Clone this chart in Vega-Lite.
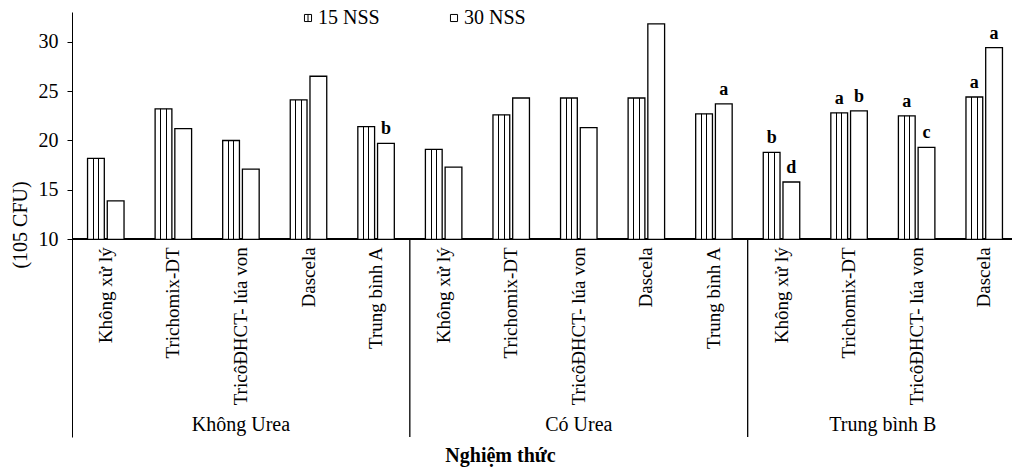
{
  "$schema": "https://vega.github.io/schema/vega-lite/v6.json",
  "autosize": "none",
  "width": 940,
  "height": 425,
  "padding": {"left": 72, "top": 12, "right": 0, "bottom": 30},
  "config": {
    "font": "Liberation Serif",
    "view": {"stroke": null},
    "text": {"color": "black"}
  },
  "data": {"values": [
    {"k": "01", "g": "Không Urea", "t": "Không xử lý", "s": "15 NSS", "v": 18.2, "sig": ""},
    {"k": "01", "g": "Không Urea", "t": "Không xử lý", "s": "30 NSS", "v": 13.9, "sig": ""},
    {"k": "02", "g": "Không Urea", "t": "Trichomix-DT", "s": "15 NSS", "v": 23.2, "sig": ""},
    {"k": "02", "g": "Không Urea", "t": "Trichomix-DT", "s": "30 NSS", "v": 21.2, "sig": ""},
    {"k": "03", "g": "Không Urea", "t": "TricôĐHCT- lúa von", "s": "15 NSS", "v": 20.0, "sig": ""},
    {"k": "03", "g": "Không Urea", "t": "TricôĐHCT- lúa von", "s": "30 NSS", "v": 17.1, "sig": ""},
    {"k": "04", "g": "Không Urea", "t": "Dascela", "s": "15 NSS", "v": 24.1, "sig": ""},
    {"k": "04", "g": "Không Urea", "t": "Dascela", "s": "30 NSS", "v": 26.5, "sig": ""},
    {"k": "05", "g": "Không Urea", "t": "Trung bình A", "s": "15 NSS", "v": 21.4, "sig": ""},
    {"k": "05", "g": "Không Urea", "t": "Trung bình A", "s": "30 NSS", "v": 19.7, "sig": "b"},
    {"k": "06", "g": "Có Urea", "t": "Không xử lý", "s": "15 NSS", "v": 19.1, "sig": ""},
    {"k": "06", "g": "Có Urea", "t": "Không xử lý", "s": "30 NSS", "v": 17.3, "sig": ""},
    {"k": "07", "g": "Có Urea", "t": "Trichomix-DT", "s": "15 NSS", "v": 22.6, "sig": ""},
    {"k": "07", "g": "Có Urea", "t": "Trichomix-DT", "s": "30 NSS", "v": 24.3, "sig": ""},
    {"k": "08", "g": "Có Urea", "t": "TricôĐHCT- lúa von", "s": "15 NSS", "v": 24.3, "sig": ""},
    {"k": "08", "g": "Có Urea", "t": "TricôĐHCT- lúa von", "s": "30 NSS", "v": 21.3, "sig": ""},
    {"k": "09", "g": "Có Urea", "t": "Dascela", "s": "15 NSS", "v": 24.3, "sig": ""},
    {"k": "09", "g": "Có Urea", "t": "Dascela", "s": "30 NSS", "v": 31.8, "sig": ""},
    {"k": "10", "g": "Có Urea", "t": "Trung bình A", "s": "15 NSS", "v": 22.7, "sig": ""},
    {"k": "10", "g": "Có Urea", "t": "Trung bình A", "s": "30 NSS", "v": 23.7, "sig": "a"},
    {"k": "11", "g": "Trung  bình B", "t": "Không xử lý", "s": "15 NSS", "v": 18.8, "sig": "b"},
    {"k": "11", "g": "Trung  bình B", "t": "Không xử lý", "s": "30 NSS", "v": 15.8, "sig": "d"},
    {"k": "12", "g": "Trung  bình B", "t": "Trichomix-DT", "s": "15 NSS", "v": 22.8, "sig": "a"},
    {"k": "12", "g": "Trung  bình B", "t": "Trichomix-DT", "s": "30 NSS", "v": 23.0, "sig": "b"},
    {"k": "13", "g": "Trung  bình B", "t": "TricôĐHCT- lúa von", "s": "15 NSS", "v": 22.5, "sig": "a"},
    {"k": "13", "g": "Trung  bình B", "t": "TricôĐHCT- lúa von", "s": "30 NSS", "v": 19.3, "sig": "c"},
    {"k": "14", "g": "Trung  bình B", "t": "Dascela", "s": "15 NSS", "v": 24.4, "sig": "a"},
    {"k": "14", "g": "Trung  bình B", "t": "Dascela", "s": "30 NSS", "v": 29.4, "sig": "a"}
  ]},
  "encoding": {
    "x": {
      "field": "k", "type": "nominal",
      "scale": {"type": "band", "range": [0, 946], "paddingInner": 0.46, "paddingOuter": 0.23},
      "axis": {"labels": false, "ticks": false, "domain": false, "title": "Nghiệm thức",
        "titleFontSize": 20, "titleFontWeight": "bold", "titlePadding": 8, "titleX": 428, "titleColor": "black"}
    }
  },
  "layer": [
    {
      "mark": {"type": "rule", "color": "black", "strokeWidth": 1.2},
      "encoding": {"x": null, "y": {"datum": 10}}
    },
    {
      "transform": [{"filter": "datum.s == '15 NSS'"}],
      "mark": {"type": "bar", "stroke": "black", "strokeWidth": 1.3,
        "fill": {"gradient": "linear", "x1": 0, "y1": 0, "x2": 1, "y2": 0, "stops": [
          {"offset": 0, "color": "white"}, {"offset": 0.31, "color": "white"},
          {"offset": 0.31, "color": "black"}, {"offset": 0.37, "color": "black"},
          {"offset": 0.37, "color": "white"}, {"offset": 0.63, "color": "white"},
          {"offset": 0.63, "color": "black"}, {"offset": 0.69, "color": "black"},
          {"offset": 0.69, "color": "white"}, {"offset": 1, "color": "white"}
        ]}},
      "encoding": {
        "xOffset": {"field": "s", "type": "nominal", "scale": {"domain": ["15 NSS", "30 NSS"], "paddingInner": 0.15, "paddingOuter": 0}},
        "y": {"field": "v", "type": "quantitative",
          "scale": {"domain": [-10, 33], "nice": false, "zero": false},
          "axis": {"values": [10, 15, 20, 25, 30], "grid": false, "tickSize": 5, "tickColor": "black",
            "domainColor": "black", "labelColor": "black", "labelFontSize": 20, "labelPadding": 9,
            "title": "(105 CFU)", "titleFontSize": 20, "titleFontWeight": "normal", "titleColor": "black", "titlePadding": 8}},
        "y2": {"datum": 10}
      }
    },
    {
      "transform": [{"filter": "datum.s == '30 NSS'"}],
      "mark": {"type": "bar", "stroke": "black", "strokeWidth": 1.3, "fill": "white"},
      "encoding": {
        "xOffset": {"field": "s", "type": "nominal"},
        "y": {"field": "v", "type": "quantitative"},
        "y2": {"datum": 10}
      }
    },
    {
      "transform": [{"filter": "datum.sig != ''"}],
      "mark": {"type": "text", "fontWeight": "bold", "fontSize": 18, "baseline": "alphabetic", "dy": -9},
      "encoding": {
        "xOffset": {"field": "s", "type": "nominal"},
        "y": {"field": "v", "type": "quantitative"},
        "text": {"field": "sig"}
      }
    },
    {
      "transform": [{"filter": "datum.s == '15 NSS'"}],
      "mark": {"type": "text", "angle": 270, "align": "right", "baseline": "middle", "dx": -8, "fontSize": 19},
      "encoding": {
        "y": {"datum": 10},
        "text": {"field": "t"}
      }
    },
    {
      "transform": [{"filter": "datum.t == 'Trung bình A' && datum.s == '15 NSS'"}],
      "mark": {"type": "rule", "color": "black", "strokeWidth": 1.3},
      "encoding": {
        "x": {"field": "k", "type": "nominal", "bandPosition": 1.425},
        "y": {"datum": 10},
        "y2": {"datum": -10}
      }
    },
    {
      "transform": [{"filter": "(datum.k == '03' || datum.k == '08') && datum.s == '15 NSS'"}],
      "mark": {"type": "text", "fontSize": 20, "baseline": "middle"},
      "encoding": {
        "y": {"datum": -8.8},
        "text": {"field": "g"}
      }
    },
    {
      "transform": [{"filter": "datum.k == '12' && datum.s == '15 NSS'"}],
      "mark": {"type": "text", "fontSize": 20, "baseline": "middle"},
      "encoding": {
        "x": {"field": "k", "type": "nominal", "bandPosition": 1.425},
        "y": {"datum": -8.8},
        "text": {"field": "g"}
      }
    },
    {
      "mark": {"type": "point", "opacity": 0},
      "encoding": {
        "y": {"field": "v", "type": "quantitative"},
        "shape": {"field": "s", "type": "nominal",
          "scale": {"domain": ["15 NSS", "30 NSS"], "range": ["M-1,-1H1V1H-1ZM0,-1V1", "square"]},
          "legend": {"orient": "none", "legendX": 226, "legendY": -4, "direction": "horizontal", "title": null,
            "symbolSize": 50, "symbolStrokeColor": "black", "symbolFillColor": "white", "symbolStrokeWidth": 1,
            "symbolOpacity": 1, "labelFontSize": 20, "labelColor": "black", "labelOffset": 0, "columnPadding": 64}}
      }
    }
  ]
}
